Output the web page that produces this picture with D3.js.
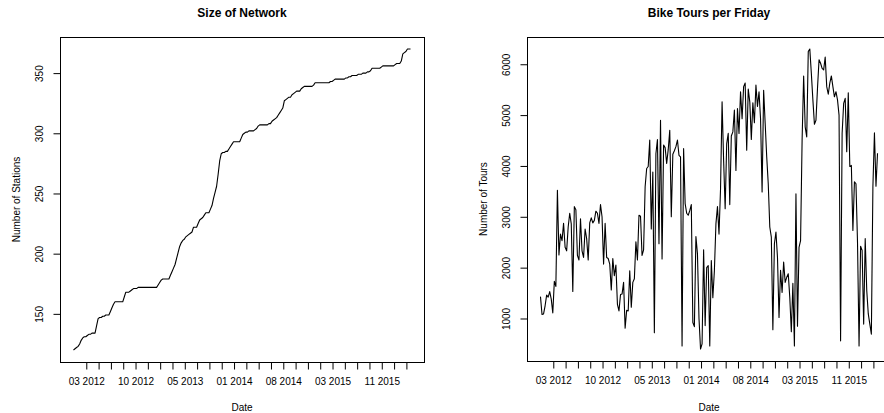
<!DOCTYPE html>
<html>
<head>
<meta charset="utf-8">
<script src="https://cdn.jsdelivr.net/npm/d3@7"></script>
<style>
  html, body { margin: 0; padding: 0; background: #fff; }
  svg { display: block; font-family: "Liberation Sans", Arial, Helvetica, sans-serif; }
</style>
</head>
<body>
<svg id="chart" width="884" height="413"></svg>
<script>
// Weekly series, one value per Friday starting on the date below
const firstFriday = "2012-01-06";

// Number of stations in the network each week
const stations = [
  120,121,122,123,125,128,130,131,131,132,
  133,133,134,134,134,140,146,147,147,148,
  148,149,149,149,152,155,158,160,160,160,
  160,160,160,164,168,168,168,169,170,171,
  171,171,172,172,172,172,172,172,172,172,
  172,172,172,172,172,174,176,178,179,179,
  179,179,179,182,185,188,191,196,201,206,
  209,211,212,214,215,216,217,218,222,222,
  222,225,228,229,230,232,234,234,234,237,
  240,246,251,256,266,277,283,284,284,285,
  285,287,289,291,293,293,293,293,293,296,
  299,300,301,301,302,302,302,302,303,304,
  306,307,307,307,307,307,307,308,308,310,
  311,312,313,315,317,319,321,327,328,329,
  330,330,332,333,334,335,335,335,337,338,
  339,339,339,339,339,339,340,342,342,342,
  342,342,342,342,342,342,342,343,343,344,
  345,345,345,345,345,345,345,346,346,347,
  347,348,348,348,348,349,349,349,350,350,
  350,351,351,352,354,354,354,354,354,354,
  355,356,356,356,356,356,356,356,356,357,
  358,358,358,360,366,367,368,370,370,370
];

// Bike tours counted on each Friday
const tours = [
  1430,1080,1090,1250,1460,1420,1530,1380,1110,1730,
  1630,3520,2250,2660,2530,2870,2400,2330,2800,3070,
  2860,1530,3200,3140,2240,2150,2960,2330,2200,2760,
  2570,2150,2880,2980,2880,2930,3110,3070,2870,3240,
  3000,2070,2870,2200,2180,2070,1560,2180,1840,2050,
  1280,1150,1470,1480,1710,810,1160,1150,1940,1220,
  1710,1780,2510,2150,3030,3010,2240,2350,3590,3950,
  3990,4510,2760,3880,720,4240,4520,2470,4900,2170,
  4410,4360,4050,4320,4700,3000,4230,4300,4380,4510,
  4210,4180,460,4340,3260,3070,3030,3120,3240,920,
  840,2610,2270,1000,400,500,2350,860,2000,2040,
  460,2140,1410,1940,2860,3200,2660,3550,5260,4110,
  3160,4440,4640,3240,4590,4670,5100,3910,5130,4640,
  5460,4930,5560,5630,4310,5510,5260,4520,5240,4850,
  5590,5170,5460,4930,3490,5490,4840,4180,3650,2800,
  2600,780,2470,2700,2200,1020,1950,1510,2110,1710,
  1810,1880,1410,740,1690,460,3450,850,2400,2530,
  4510,5770,4770,4570,6250,6300,5820,5300,4820,4900,
  5530,6090,6020,5920,5890,6140,5560,5410,5630,5770,
  5560,5360,5460,5300,5000,560,4640,5230,5330,4280,
  5440,3990,4010,2730,3690,3650,2500,460,2420,2340,
  890,2570,1550,1090,890,690,3590,4650,3600,4250
];

// Tick marks on the value axes
const stationTicks = [150, 200, 250, 300, 350];
const tourTicks = [1000, 2000, 3000, 4000, 5000, 6000];

// Date axis: a tick every 8 weeks, a label on every 4th tick
const dateTickStart = "2012-03-02";
const dateTickCount = 27;
const dateTickStepDays = 56;
const dateLabelEvery = 4;

const parse = d3.utcParse("%Y-%m-%d");
const start = parse(firstFriday);
const dates = stations.map((_, i) => d3.utcDay.offset(start, 7 * i));
const tickStart = parse(dateTickStart);
const dateTicks = d3.range(dateTickCount).map(k => d3.utcDay.offset(tickStart, dateTickStepDays * k));
const fmtDate = d3.utcFormat("%m %Y");

const svg = d3.select("#chart");

// Extend a [min, max] extent by 4% on both sides
function padded(ext) {
  const r = ext[1] - ext[0];
  return [ext[0] - 0.04 * r, ext[1] + 0.04 * r];
}

function drawPanel(opt) {
  const { left, top, width, height, values, yTicks, title, ylab } = opt;
  const g = svg.append("g").attr("transform", `translate(${left},${top})`);

  const tExt = d3.extent(dates).map(d => +d);
  const x = d3.scaleUtc()
    .domain(padded(tExt).map(v => new Date(v)))
    .range([0, width]);
  const y = d3.scaleLinear()
    .domain(padded(d3.extent(values)))
    .range([height, 0]);

  // series line
  const line = d3.line()
    .x((d, i) => x(dates[i]))
    .y(d => y(d));
  g.append("path")
    .datum(values)
    .attr("fill", "none")
    .attr("stroke", "#000")
    .attr("stroke-width", 1.1)
    .attr("stroke-linejoin", "round")
    .attr("d", line);

  // frame
  g.append("rect")
    .attr("x", 0.5).attr("y", 0.5)
    .attr("width", width).attr("height", height)
    .attr("fill", "none")
    .attr("stroke", "#000")
    .attr("stroke-width", 1);

  // date axis
  const xa = g.append("g")
    .attr("transform", `translate(0.5,${height + 0.5})`)
    .call(d3.axisBottom(x)
      .tickValues(dateTicks)
      .tickSize(7)
      .tickPadding(8.5)
      .tickFormat((d, i) => (i % dateLabelEvery === 0 ? fmtDate(d) : "")));
  xa.select(".domain").remove();
  xa.selectAll(".tick line").attr("stroke", "#000");
  xa.selectAll(".tick text")
    .attr("fill", "#000")
    .style("font-size", "10px")
    .style("font-family", "\"Liberation Sans\", Arial, Helvetica, sans-serif");

  // value axis with labels parallel to it
  const ya = g.append("g")
    .attr("transform", "translate(0.5,0)")
    .call(d3.axisLeft(y).tickValues(yTicks).tickSize(7).tickFormat(d3.format("d")));
  ya.select(".domain").remove();
  ya.selectAll(".tick line").attr("stroke", "#000");
  ya.selectAll(".tick text")
    .attr("fill", "#000")
    .attr("transform", "rotate(-90)")
    .attr("x", 0)
    .attr("y", -21)
    .attr("dy", "0.35em")
    .attr("text-anchor", "middle")
    .style("font-size", "10px")
    .style("font-family", "\"Liberation Sans\", Arial, Helvetica, sans-serif");

  // title
  g.append("text")
    .attr("x", width / 2)
    .attr("y", 17 - top)
    .attr("text-anchor", "middle")
    .attr("font-weight", "bold")
    .attr("font-size", 12)
    .attr("fill", "#000")
    .text(title);

  // axis titles
  g.append("text")
    .attr("x", width / 2)
    .attr("y", 410.6 - top)
    .attr("text-anchor", "middle")
    .attr("font-size", 10)
    .attr("fill", "#000")
    .text("Date");

  g.append("text")
    .attr("transform", `translate(${-39.7},${height / 2}) rotate(-90)`)
    .attr("text-anchor", "middle")
    .attr("font-size", 10)
    .attr("fill", "#000")
    .text(ylab);
}

drawPanel({
  left: 60, top: 37, width: 364, height: 325,
  values: stations, yTicks: stationTicks,
  title: "Size of Network", ylab: "Number of Stations"
});

drawPanel({
  left: 527, top: 37, width: 364, height: 324,
  values: tours, yTicks: tourTicks,
  title: "Bike Tours per Friday", ylab: "Number of Tours"
});
</script>
</body>
</html>
